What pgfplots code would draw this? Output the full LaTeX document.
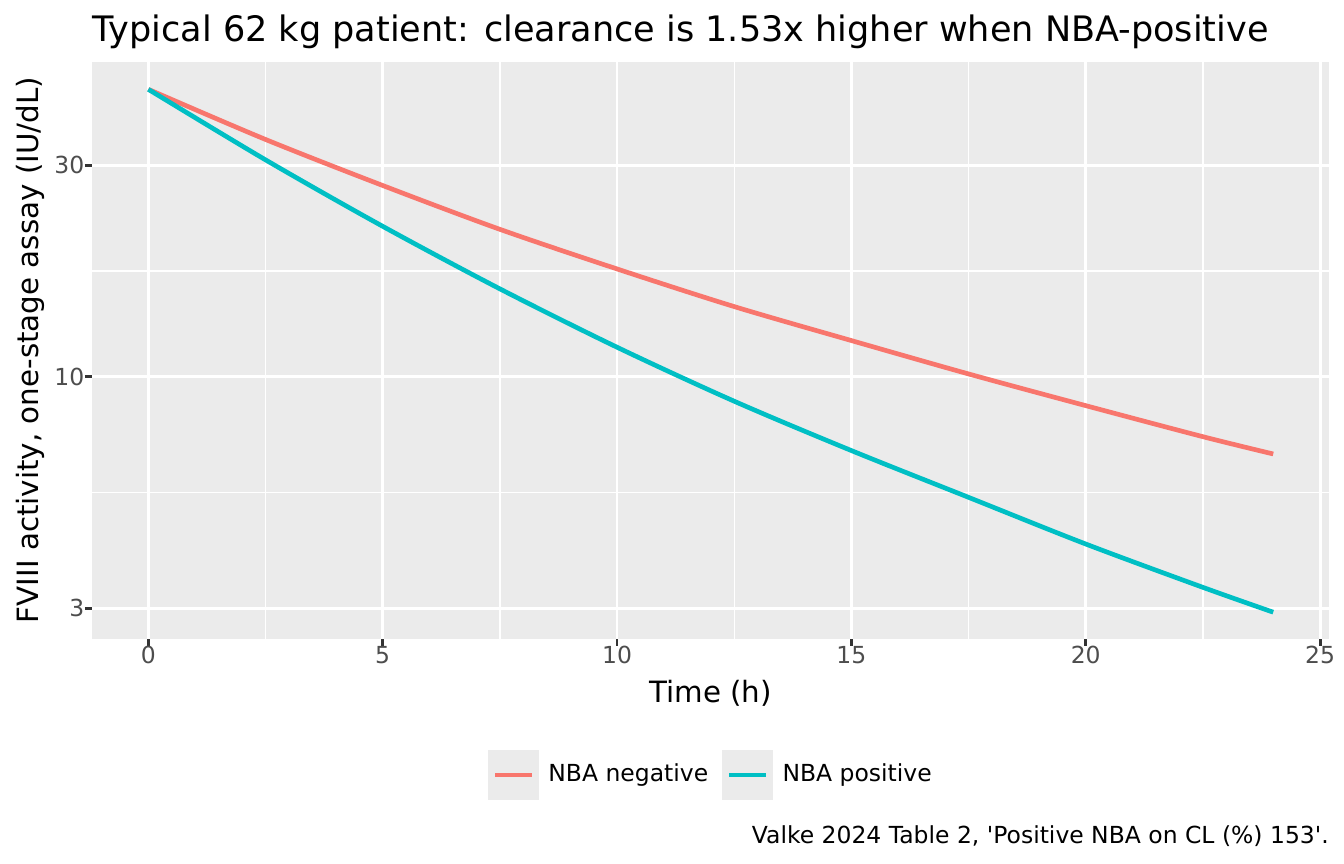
\documentclass[border=0pt]{standalone}
\usepackage{fontspec}
\setmainfont{DejaVu Sans}
\usepackage{pgfplots}
\pgfplotsset{compat=1.18}
\definecolor{ggred}{HTML}{F8766D}
\definecolor{ggcyan}{HTML}{00BFC4}
\definecolor{ggbg}{HTML}{EBEBEB}
\definecolor{ggthirty}{HTML}{4D4D4D}
\definecolor{ggtwenty}{HTML}{333333}
\begin{document}
\begin{tikzpicture}
\path[use as bounding box] (0,0) rectangle (504bp,-324bp);
\begin{axis}[
  at={(34.54bp,-239.5bp)}, anchor=south west,
  scale only axis, width=464.0bp, height=216.4bp,
  ymode=log, xmin=-1.2, xmax=25.2, ymin=2.562, ymax=51.4,
  axis background/.style={fill=ggbg},
  axis line style={draw=none},
  tick pos=left, tick align=outside,
  major tick length=2.75bp,
  minor tick length=0pt,
  tick style={ggtwenty, line width=1.07bp},
  xtick={0,5,10,15,20,25}, xticklabels={0,5,10,15,20,25},
  ytick={3,10,30}, yticklabels={3,10,30},
  minor xtick={2.5,7.5,12.5,17.5,22.5},
  minor ytick={5.477,17.32},
  grid=both,
  major grid style={white, line width=1.07bp},
  minor grid style={white, line width=0.53bp},
  ticklabel style={font=\fontsize{8.8bp}{10bp}\selectfont, text=ggthirty, inner sep=0pt},
  legend columns=2,
  legend cell align=left,
  legend style={at={(0.3202,-0.236)}, anchor=west, draw=none, fill=none,
    inner sep=0pt, outer sep=0pt, font=\fontsize{8.8bp}{10bp}\selectfont, text=black,
    nodes={inner sep=0pt},
    /tikz/every odd column/.append style={column sep=3.6bp},
    /tikz/every even column/.append style={column sep=5.3bp}},
  legend image code/.code={\fill[ggbg] (0bp,-8.6bp) rectangle (17.2bp,8.6bp);
    \draw[#1] (1.7bp,0bp) -- (15.5bp,0bp);},
]
\addplot[ggred, line width=1.75bp, smooth] coordinates {
 (0,44.5) (2.5,34.3) (5,27.0) (7.5,21.5) (10,17.5) (12.5,14.39) (15,12.06)
 (17.5,10.14) (20,8.60) (22.5,7.32) (24,6.69)};
\addlegendentry{NBA negative}
\addplot[ggcyan, line width=1.75bp, smooth] coordinates {
 (0,44.5) (2.5,30.85) (5,21.84) (7.5,15.78) (10,11.65) (12.5,8.80) (15,6.81)
 (17.5,5.34) (20,4.19) (22.5,3.345) (24,2.94)};
\addlegendentry{NBA positive}
\end{axis}
\node[anchor=base west, inner sep=0pt, font=\fontsize{13.15bp}{15bp}\selectfont] at (34.6bp,-15.64bp)
  {Typical 62 kg patient: clearance is 1.53x higher when NBA-positive};
\node[rotate=90, anchor=base, inner sep=0pt, font=\fontsize{11bp}{13bp}\selectfont] at (14.36bp,-131.3bp)
  {FVIII activity, one-stage assay (IU/dL)};
\node[anchor=base, inner sep=0pt, font=\fontsize{11bp}{13bp}\selectfont] at (266.5bp,-263.5bp)
  {Time (h)};
\node[anchor=base east, inner sep=0pt, font=\fontsize{8.8bp}{10bp}\selectfont] at (498.5bp,-316.2bp)
  {Valke 2024 Table 2, \textquotesingle Positive NBA on CL (\%) 153\textquotesingle.};
\end{tikzpicture}
\end{document}
